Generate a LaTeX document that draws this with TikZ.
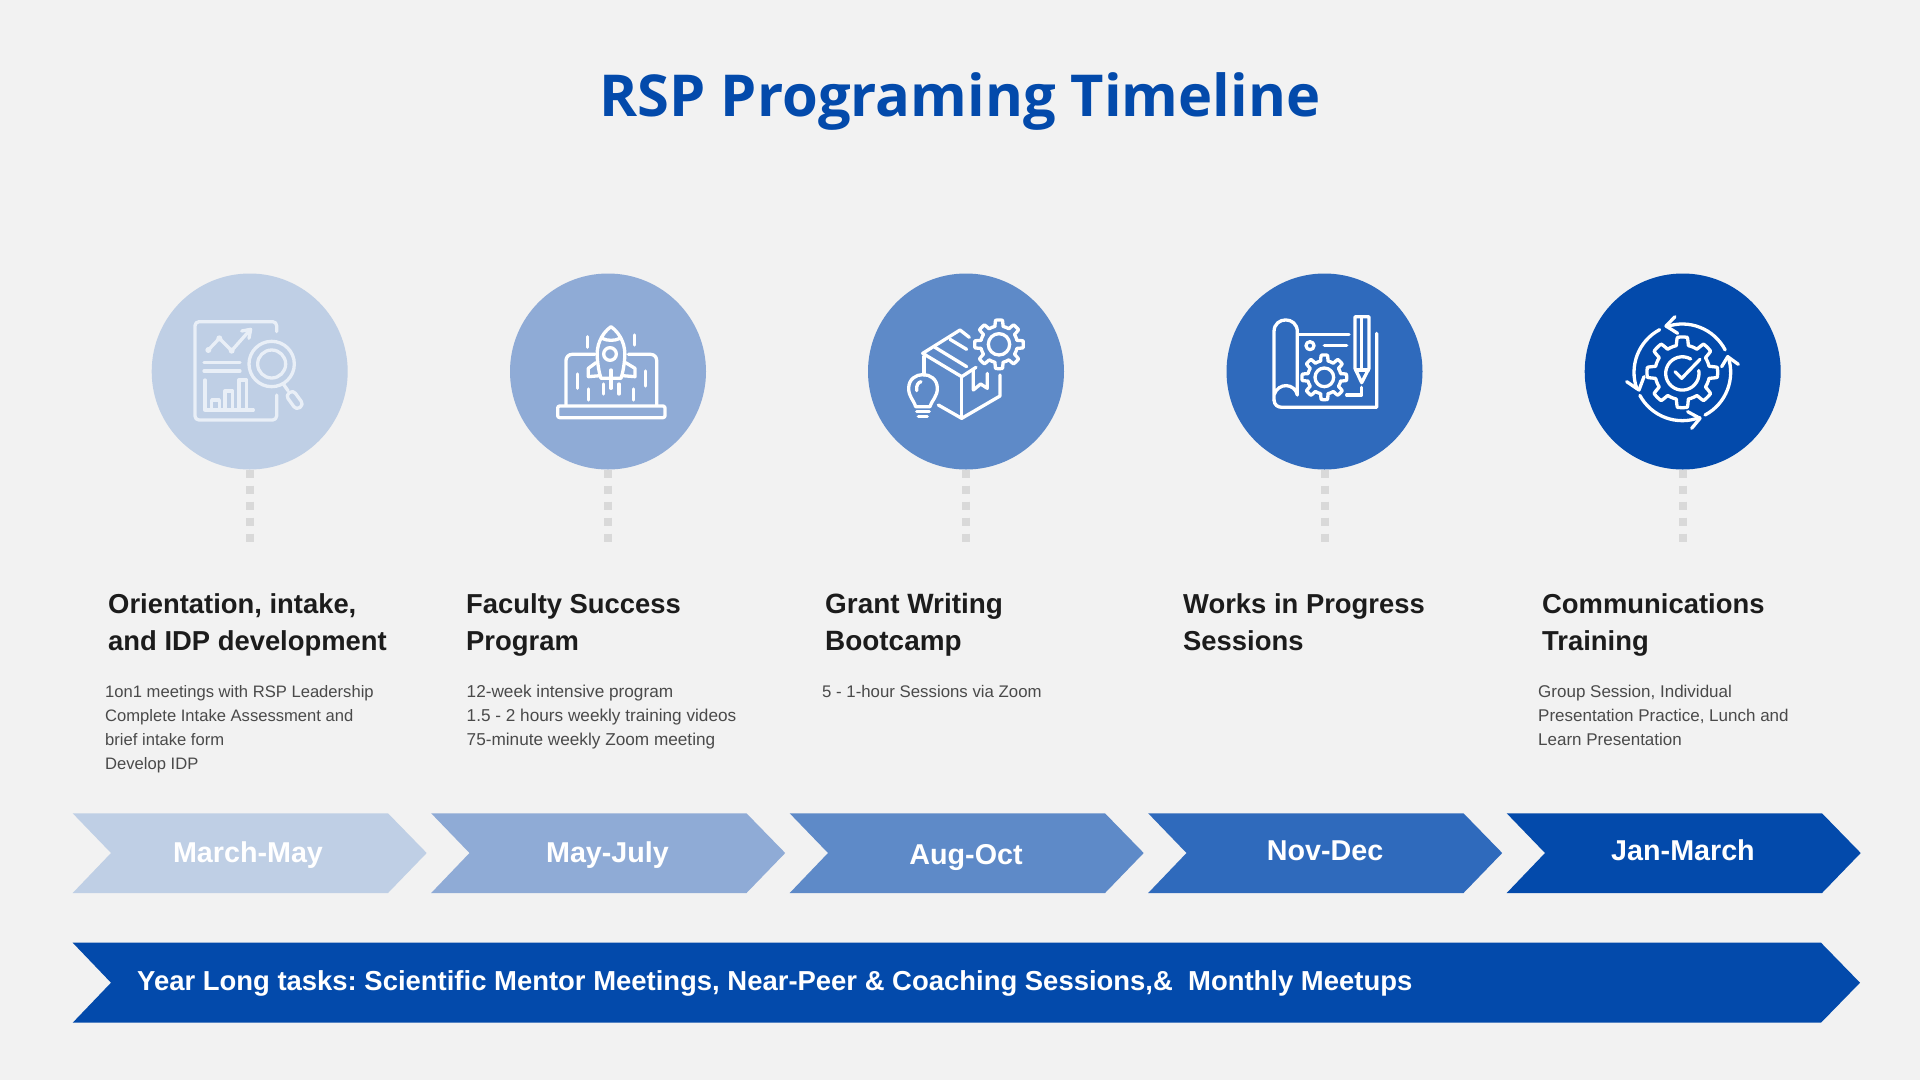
\documentclass[tikz,border=0pt]{standalone}
\usepackage{fontspec}
\setmainfont{Liberation Sans}
\newfontfamily\titlefont{Open Sans}
\definecolor{bgc}{HTML}{F2F2F2}
\definecolor{cA}{HTML}{BFCFE5}
\definecolor{cB}{HTML}{8FABD6}
\definecolor{cC}{HTML}{5E8AC8}
\definecolor{cD}{HTML}{2F6ABC}
\definecolor{cE}{HTML}{034AAB}
\definecolor{headc}{HTML}{1C1C1C}
\definecolor{bodyc}{HTML}{4A4A4A}
\definecolor{dotc}{HTML}{D9D9D9}
\definecolor{iconlight}{HTML}{E9EFF7}
\newcommand{\GearShape}[5]{\draw[ico] plot[domain=0:360,samples=361,variable=\t] ({#1+(#3+(#4-#3)*min(1,max(0,1.7*cos(#5*\t)+.3)))*cos(\t)},{#2+(#3+(#4-#3)*min(1,max(0,1.7*cos(#5*\t)+.3)))*sin(\t)}) -- cycle;}
\newcommand{\RingArc}[5]{\draw[ico] ({#1+#3*cos(#4)},{#2-#3*sin(#4)}) arc[start angle=-#4,end angle=-#5,radius=#3];}
\newcommand{\fsz}[2]{\fontsize{#1}{#2}\selectfont}
\tikzset{
  x=1pt,y=-1pt,
  disc/.style={circle,minimum size=196pt,inner sep=0pt},
  dots/.style={dotc,line width=8pt,dash pattern=on 8pt off 8pt},
  ico/.style={line width=3.3pt,line cap=round,line join=round},
  icoscope/.style={x=.33333pt,y=-.33333pt},
  chev/.style={inner sep=0pt,text=white,font=\fsz{28.7}{32}\bfseries\frenchspacing},
  head/.style={anchor=north west,inner sep=0pt,align=left,text=headc,font=\fsz{27.4}{37}\bfseries\frenchspacing},
  body/.style={anchor=north west,inner sep=0pt,align=left,text=bodyc,font=\fsz{#1}{24}\frenchspacing},
}
\begin{document}
\begin{tikzpicture}
\useasboundingbox (0,0) rectangle (1920,1080);
\fill[bgc] (0,0) rectangle (1920,1080);
\node[inner sep=0pt,text=cE,anchor=base,font=\fsz{57.8}{70}\titlefont\bfseries] (title) at (960,116) {RSP Programing Timeline};

% discs
\node[disc,fill=cA] (c1) at (249.7,371.5) {};
\node[disc,fill=cB] (c2) at (608,371.5) {};
\node[disc,fill=cC] (c3) at (966,371.5) {};
\node[disc,fill=cD] (c4) at (1324.5,371.5) {};
\node[disc,fill=cE] (c5) at (1682.7,371.5) {};
\coordinate (e1) at (249.7,542);
\coordinate (e2) at (608,542);
\coordinate (e3) at (966,542);
\coordinate (e4) at (1324.5,542);
\coordinate (e5) at (1682.7,542);
\foreach \k in {1,...,5}{\draw[dots] (c\k.south) -- (e\k);}

% icon 1
\begin{scope}[shift={(130,260)},icoscope,iconlight]
\draw[ico,rounded corners=4pt] (440,215) -- (440,185) -- (195,185) -- (195,480) -- (440,480) -- (440,405);
\draw[ico] (235,270) -- (268,235) -- (305,272) -- (358,212);
\draw[ico] (335,213) -- (362,208) -- (357,235);
\fill (235,270) circle[radius=9] (268,235) circle[radius=9] (305,272) circle[radius=9];
\draw[ico] (222,308) -- (330,308) (222,333) -- (330,333);
\draw[ico] (225,360) -- (225,450) -- (370,450);
\draw[ico] (245,445) -- (245,420) -- (268,420) -- (268,445);
\draw[ico] (285,445) -- (285,393) -- (308,393) -- (308,445);
\draw[ico] (327,445) -- (327,360) -- (350,360) -- (350,445);
\draw[ico] (425,312) circle[radius=68] (425,312) circle[radius=42];
\draw[ico] (460,372) -- (474,392);
\draw[ico,rounded corners=4pt] (489,390) -- (521,434) -- (499,450) -- (467,406) -- cycle;
\end{scope}

% icon 2
\begin{scope}[shift={(490,260)},icoscope,white]
\draw[ico,rounded corners=2pt] (203,438) rectangle (525,473);
\draw[ico,rounded corners=6pt] (228,435) -- (228,283) -- (315,283);
\draw[ico,rounded corners=6pt] (415,283) -- (500,283) -- (500,435);
\draw[ico] (363,200) .. controls (332,222) and (318,260) .. (322,295) .. controls (324,320) and (328,340) .. (333,355) -- (393,355) .. controls (398,340) and (402,320) .. (404,295) .. controls (408,260) and (394,222) .. (363,200) -- cycle;
\draw[ico] (336,235) .. controls (352,243) and (374,243) .. (390,235);
\draw[ico] (360,282) circle[radius=19];
\draw[ico] (318,308) -- (295,325) -- (295,350) -- (330,347);
\draw[ico] (407,308) -- (435,325) -- (435,350) -- (397,347);
\draw[ico] (293,230) -- (293,262) (433,225) -- (433,255) (262,342) -- (262,385) (466,333) -- (466,378) (295,387) -- (295,420) (431,387) -- (431,420) (340,372) -- (340,402) (387,372) -- (387,402) (363,330) -- (363,385);
\end{scope}

% icon 3
\begin{scope}[shift={(850,260)},icoscope,white]
\GearShape{447}{253}{55}{73}{8}
\draw[ico] (447,253) circle[radius=32];
\draw[ico] (358,232) -- (330,210) -- (218,280) -- (335,350) -- (378,322);
\draw[ico] (222,290) -- (222,345);
\draw[ico] (265,435) -- (335,475) -- (450,408) -- (450,345);
\draw[ico] (335,350) -- (335,475);
\draw[ico] (300,238) -- (350,268) (255,262) -- (350,320);
\draw[ico] (370,328) -- (370,390) -- (392,372) -- (412,385) -- (412,340);
\draw[ico] (197,440) .. controls (190,418) and (176,410) .. (176,385) .. controls (176,330) and (262,330) .. (262,385) .. controls (262,410) and (247,418) .. (240,440) -- cycle;
\draw[ico] (200,455) -- (238,455) (205,470) -- (232,470);
\draw[ico] (200,392) .. controls (198,375) and (205,367) .. (213,365);
\end{scope}

% icon 4
\begin{scope}[shift={(1205,260)},icoscope,white]
\draw[ico] (207,420) -- (207,215) .. controls (207,168) and (277,168) .. (277,215) -- (277,405) .. controls (270,370) and (220,365) .. (207,405);
\draw[ico] (207,420) .. controls (208,435) and (218,442) .. (232,442) -- (515,442) -- (515,220);
\draw[ico] (280,223) -- (432,223);
\draw[ico] (315,257) circle[radius=12];
\draw[ico] (358,257) -- (425,257);
\GearShape{358}{352}{50}{67}{8}
\draw[ico] (358,352) circle[radius=28];
\draw[ico] (450,170) -- (492,170) -- (492,325) -- (470,368) -- (450,325) -- cycle;
\draw[ico] (470,172) -- (470,325);
\draw[ico] (452,330) -- (490,330);
\draw[ico] (425,405) -- (470,405) -- (470,382);
\end{scope}

% icon 5
\begin{scope}[shift={(1565,260)},icoscope,white]
\GearShape{352}{337}{82}{106}{8}
\draw[ico] (377,297) arc[start angle=-60,end angle=-370,radius=50];
\draw[ico] (330,335) -- (350,355) -- (405,298);
\RingArc{352}{337}{145}{27.6}{109}
\RingArc{352}{337}{145}{118}{200}
\RingArc{352}{337}{145}{208.5}{291}
\RingArc{352}{337}{145}{298}{379}
\draw[ico] (330,170) -- (303,198) -- (338,220);
\draw[ico] (185,365) -- (222,390) -- (237,350);
\draw[ico] (368,455) -- (405,475) -- (380,505);
\draw[ico] (470,320) -- (488,290) -- (520,313);
\end{scope}

% headings and bodies
\node[head] (h1) at (108,593) {Orientation, intake,\\and IDP development};
\node[head] (h2) at (466,593) {Faculty Success\\Program};
\node[head,font=\fsz{27.9}{37}\bfseries] (h3) at (825,593) {Grant Writing\\Bootcamp};
\node[head] (h4) at (1183,593) {Works in Progress\\Sessions};
\node[head] (h5) at (1542,593) {Communications\\Training};
\node[body=16.6] (b1) at (105,685) {1on1 meetings with RSP Leadership\\Complete Intake Assessment and\\brief intake form\\Develop IDP};
\node[body=17.2] (b2) at (466.5,685) {12-week intensive program\\1.5 - 2 hours weekly training videos\\75-minute weekly Zoom meeting};
\node[body=16.8] (b3) at (822,685) {5 - 1-hour Sessions via Zoom};
\node[body=17] (b5) at (1538,685) {Group Session, Individual\\Presentation Practice, Lunch and\\Learn Presentation};

% chevrons
\foreach \k/\off/\col in {1/0/cA,2/358.5/cB,3/717/cC,4/1075.5/cD,5/1434/cE}{
  \fill[\col,shift={(\off,0)}] (72.7,813.3) -- (388,813.3) -- (426.7,853) -- (388,893) -- (72.7,893) -- (111,853) -- cycle;
}
\fill[cE] (72.7,942.7) -- (1821,942.7) -- (1860,982.7) -- (1821,1022.7) -- (72.7,1022.7) -- (111,982.7) -- cycle;
\node[chev] (l1) at (248,855.5) {March-May};
\node[chev] (l2) at (607.5,855.5) {May-July};
\node[chev] (l3) at (966,857.5) {Aug-Oct};
\node[chev] (l4) at (1325,851) {Nov-Dec};
\node[chev] (l5) at (1683,850) {Jan-March};
\node[chev,anchor=west,font=\fsz{27.45}{32}\bfseries\frenchspacing] (l6) at (137,983.5) {Year Long tasks: Scientific Mentor Meetings, Near-Peer \& Coaching Sessions,\&\ \ Monthly Meetups};
\end{tikzpicture}
\end{document}
